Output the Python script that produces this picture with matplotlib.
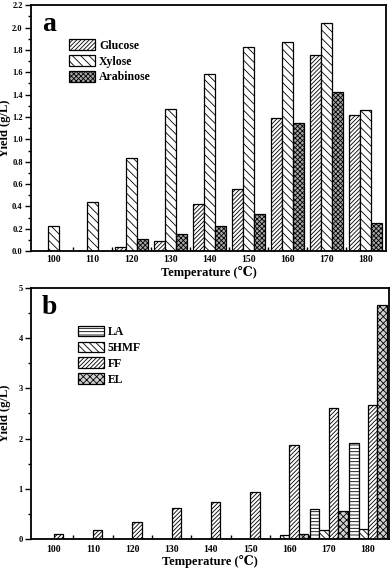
import matplotlib
matplotlib.use("Agg")
import matplotlib.pyplot as plt
from matplotlib.ticker import MultipleLocator, FixedLocator
import numpy as np

# temperatures (°C)
temps = [100, 110, 120, 130, 140, 150, 160, 170, 180]
temp_labels = ["100", "110", "120", "130", "140", "150", "160", "170", "180"]

# panel a: sugars (g/L)
glucose = [0.0, 0.0, 0.04, 0.09, 0.42, 0.56, 1.19, 1.75, 1.22]
xylose = [0.23, 0.44, 0.83, 1.27, 1.58, 1.83, 1.87, 2.04, 1.26]
arabinose = [0.0, 0.0, 0.11, 0.15, 0.23, 0.33, 1.15, 1.42, 0.25]

# panel b: degradation products (g/L)
la = [0.0, 0.0, 0.0, 0.0, 0.0, 0.0, 0.0, 0.60, 1.91]
hmf = [0.0, 0.0, 0.0, 0.0, 0.0, 0.0, 0.08, 0.17, 0.19]
ff = [0.10, 0.17, 0.34, 0.62, 0.73, 0.93, 1.87, 2.60, 2.67]
el = [0.0, 0.0, 0.0, 0.0, 0.0, 0.0, 0.10, 0.55, 4.66]

plt.rcParams['font.family'] = ['Liberation Serif', 'DejaVu Serif']
plt.rcParams['font.weight'] = 'bold'
plt.rcParams['hatch.linewidth'] = 0.6

fig = plt.figure(figsize=(3.92, 5.71), dpi=100)
ax_a = fig.add_axes([0.079, 0.560, 0.906, 0.431])
ax_b = fig.add_axes([0.079, 0.056, 0.913, 0.440])

x = np.array(temps, dtype=float)


def style_axes(ax, ymax, ymajor, yfmt, xpad):
    ax.set_xlim(94.2, 185.3)
    ax.set_ylim(0, ymax)
    ax.xaxis.set_major_locator(FixedLocator(temps))
    ax.set_xticklabels(temp_labels)
    ax.xaxis.set_minor_locator(FixedLocator([t + 5 for t in temps[:-1]]))
    ax.tick_params(axis='x', which='major', length=0, labelsize=7, pad=xpad)
    ax.tick_params(axis='x', which='minor', length=3, direction='in', width=1)
    ax.yaxis.set_major_locator(MultipleLocator(ymajor))
    ax.yaxis.set_minor_locator(MultipleLocator(ymajor / 2))
    ax.tick_params(axis='y', which='major', length=4, width=1, labelsize=6, pad=2)
    ax.tick_params(axis='y', which='minor', length=2, width=1)
    ax.yaxis.set_major_formatter(yfmt)
    for s in ax.spines.values():
        s.set_linewidth(1.3)
    ax.set_ylabel("Yield (g/L)", fontsize=9, fontweight='bold')
    ax.yaxis.set_label_coords(-0.055, 0.5)
    ax.set_xlabel("Temperature (\u2103)", fontsize=9, fontweight='bold', labelpad=1)


# panel a
w = 2.8
ax_a.bar(x - w, glucose, w, color='white', edgecolor='black', hatch='////////', lw=0.9, label='Glucose')
ax_a.bar(x, xylose, w, color='white', edgecolor='black', hatch='\\\\\\\\', lw=0.9, label='Xylose')
ax_a.bar(x + w, arabinose, w, color='#a8a8a8', edgecolor='black', hatch='xxxxxxx', lw=0.9, label='Arabinose')
style_axes(ax_a, 2.2, 0.2, '{x:.1f}', 3)
ax_a.text(0.031, 0.974, "a", transform=ax_a.transAxes, fontsize=20, fontweight='bold',
          va='top', ha='left')
ax_a.legend(loc='upper left', bbox_to_anchor=(0.095, 0.88), frameon=False, fontsize=8.5,
            handlelength=2.2, handleheight=1.0, handletextpad=0.3, labelspacing=0.3,
            borderaxespad=0)

# panel b
wb = 2.4
ax_b.bar(x - 1.5 * wb, la, wb, color='white', edgecolor='black', hatch='-----', lw=0.9, label='LA')
ax_b.bar(x - 0.5 * wb, hmf, wb, color='white', edgecolor='black', hatch='\\\\\\\\\\', lw=0.9, label='5HMF')
ax_b.bar(x + 0.5 * wb, ff, wb, color='white', edgecolor='black', hatch='////////', lw=0.9, label='FF')
ax_b.bar(x + 1.5 * wb, el, wb, color='#d0d0d0', edgecolor='black', hatch='xxxxx', lw=0.9, label='EL')
style_axes(ax_b, 5, 1, '{x:.0f}', 4)
ax_b.text(0.031, 0.972, "b", transform=ax_b.transAxes, fontsize=20, fontweight='bold',
          va='top', ha='left')
ax_b.legend(loc='upper left', bbox_to_anchor=(0.119, 0.868), frameon=False, fontsize=8.5,
            handlelength=2.2, handleheight=1.0, handletextpad=0.3, labelspacing=0.3,
            borderaxespad=0)

fig.savefig("out.png", dpi=100)
